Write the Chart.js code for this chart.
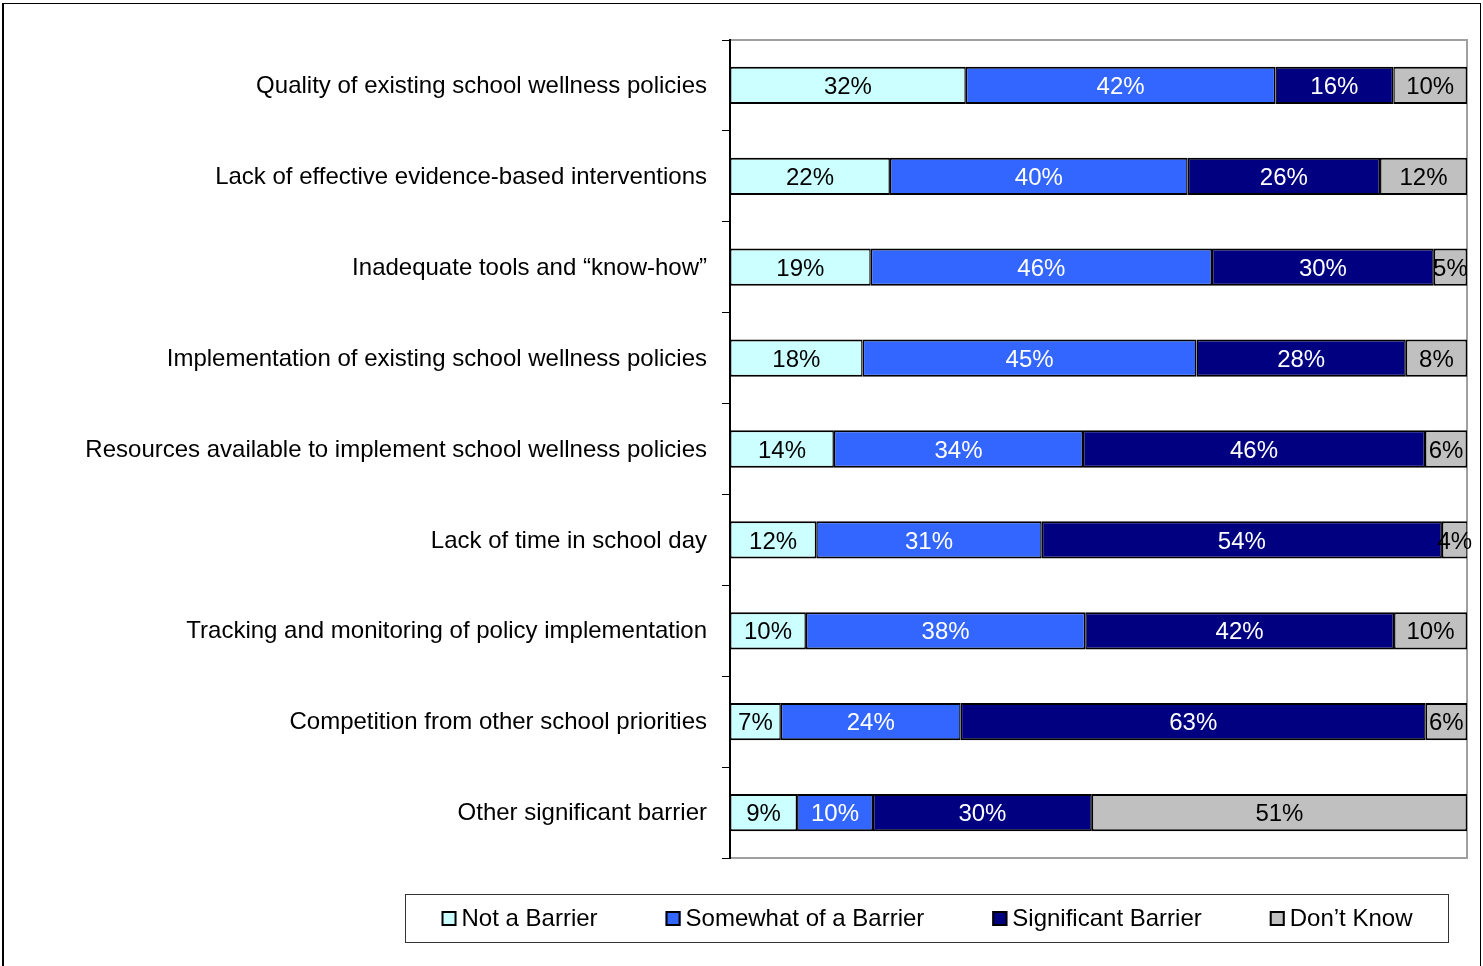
<!DOCTYPE html>
<html>
<head>
<meta charset="utf-8">
<script src="https://cdn.jsdelivr.net/npm/chart.js@4.4.1/dist/chart.umd.min.js"></script>
<style>
  html, body { margin: 0; padding: 0; background: #fff; overflow: hidden; }
  #frame {
    position: absolute; left: 2px; top: 3px; width: 1476px; height: 980px;
    border: 1px solid #000; border-left-width: 2px;
  }
  #wrap { position: absolute; left: 0; top: 0; }
</style>
</head>
<body>
<div id="frame"></div>
<div id="wrap"><canvas id="barriers" width="1483" height="966"></canvas></div>
<script>
const categories = [
  "Quality of existing school wellness policies",
  "Lack of effective evidence-based interventions",
  "Inadequate tools and \u201cknow-how\u201d",
  "Implementation of existing school wellness policies",
  "Resources available to implement school wellness policies",
  "Lack of time in school day",
  "Tracking and monitoring of policy implementation",
  "Competition from other school priorities",
  "Other significant barrier"
];

// percentages (labels are these rounded)
const notABarrier = [32, 21.7, 19.1, 18.0, 14.1, 11.7, 10.3, 6.9, 9.1];
const somewhatBarrier = [42, 40.4, 46.3, 45.3, 33.8, 30.6, 37.9, 24.4, 10.3];
const significantBarrier = [16, 26.1, 30.1, 28.4, 46.4, 54.3, 41.9, 63.1, 29.7];
const dontKnow = [10, 11.8, 4.5, 8.3, 5.7, 3.5, 9.9, 5.6, 50.9];

const seriesNames = ["Not a Barrier", "Somewhat of a Barrier", "Significant Barrier", "Don\u2019t Know"];
const seriesColors = ["#CCFFFF", "#3366FF", "#000080", "#C0C0C0"];
const labelColors = ["#000", "#fff", "#fff", "#000"];

const FONT = "'Liberation Sans', Arial, sans-serif";
Chart.defaults.font.family = FONT;
Chart.defaults.color = "#000";

// gray frame around the plot area, drawn under the axis line
const plotFrame = {
  id: "plotFrame",
  beforeDraw(chart) {
    const { ctx, chartArea: a } = chart;
    ctx.save();
    ctx.strokeStyle = "#A0A0A0";
    ctx.lineWidth = 2;
    ctx.strokeRect(a.left, a.top, a.right - a.left, a.bottom - a.top);
    ctx.restore();
  }
};

// percentage text in the middle of each segment
const segmentLabels = {
  id: "segmentLabels",
  afterDatasetsDraw(chart) {
    const { ctx } = chart;
    ctx.save();
    ctx.font = "24px " + FONT;
    ctx.textAlign = "center";
    ctx.textBaseline = "middle";
    chart.data.datasets.forEach((ds, i) => {
      chart.getDatasetMeta(i).data.forEach((bar, j) => {
        ctx.fillStyle = labelColors[i];
        ctx.fillText(Math.round(ds.data[j]) + "%", (bar.x + bar.base) / 2, bar.y + 2);
      });
    });
    ctx.restore();
  }
};

// boxed legend under the plot
const boxedLegend = {
  id: "boxedLegend",
  afterDraw(chart) {
    const { ctx } = chart;
    const box = { left: 405.5, top: 894.5, width: 1043, height: 48 };
    const cy = box.top + box.height / 2;
    const marker = 15, gapText = 5, gapItem = 68;
    ctx.save();
    ctx.font = "24px " + FONT;
    ctx.strokeStyle = "#333";
    ctx.lineWidth = 1;
    ctx.strokeRect(box.left, box.top, box.width, box.height);
    const widths = seriesNames.map((n) => ctx.measureText(n).width);
    let total = gapItem * (seriesNames.length - 1);
    widths.forEach((w) => (total += marker + gapText + w));
    let x = box.left + box.width / 2 - total / 2;
    ctx.textBaseline = "middle";
    ctx.textAlign = "left";
    seriesNames.forEach((n, i) => {
      ctx.fillStyle = seriesColors[i];
      ctx.fillRect(x, cy - marker / 2, marker, marker);
      ctx.lineWidth = 2;
      ctx.strokeStyle = "#000";
      ctx.strokeRect(x + 1, cy - marker / 2 + 1, marker - 2, marker - 2);
      ctx.fillStyle = "#000";
      ctx.fillText(n, x + marker + gapText, cy + 1);
      x += marker + gapText + widths[i] + gapItem;
    });
    ctx.restore();
  }
};

const seriesData = [notABarrier, somewhatBarrier, significantBarrier, dontKnow];

const config = {
  type: "bar",
  data: {
    labels: categories,
    datasets: seriesData.map((d, i) => ({
      label: seriesNames[i],
      data: d,
      backgroundColor: seriesColors[i],
      borderColor: "#000",
      borderWidth: { top: 2, bottom: 2, left: 1.5, right: 1.5 },
      borderSkipped: false,
      categoryPercentage: 1,
      barPercentage: 0.41
    }))
  },
  options: {
    indexAxis: "y",
    responsive: false,
    animation: false,
    layout: { padding: { left: 0, top: 40, right: 16, bottom: 108 } },
    plugins: {
      legend: { display: false },
      tooltip: { enabled: false }
    },
    scales: {
      x: { stacked: true, min: 0, max: 100, display: false },
      y: {
        stacked: true,
        afterFit: (scale) => { scale.width = 730; },
        grid: { drawOnChartArea: false, drawTicks: true, tickLength: 8, color: "#000" },
        border: { display: true, color: "#000", width: 2 },
        ticks: { autoSkip: false, padding: 15, labelOffset: 1, font: { size: 24 }, color: "#000" }
      }
    }
  },
  plugins: [plotFrame, segmentLabels, boxedLegend]
};

const createChart = (elementId, chartConfig) => {
  const context = document.getElementById(elementId).getContext("2d");
  return new Chart(context, chartConfig);
};

createChart("barriers", config);
</script>
</body>
</html>
